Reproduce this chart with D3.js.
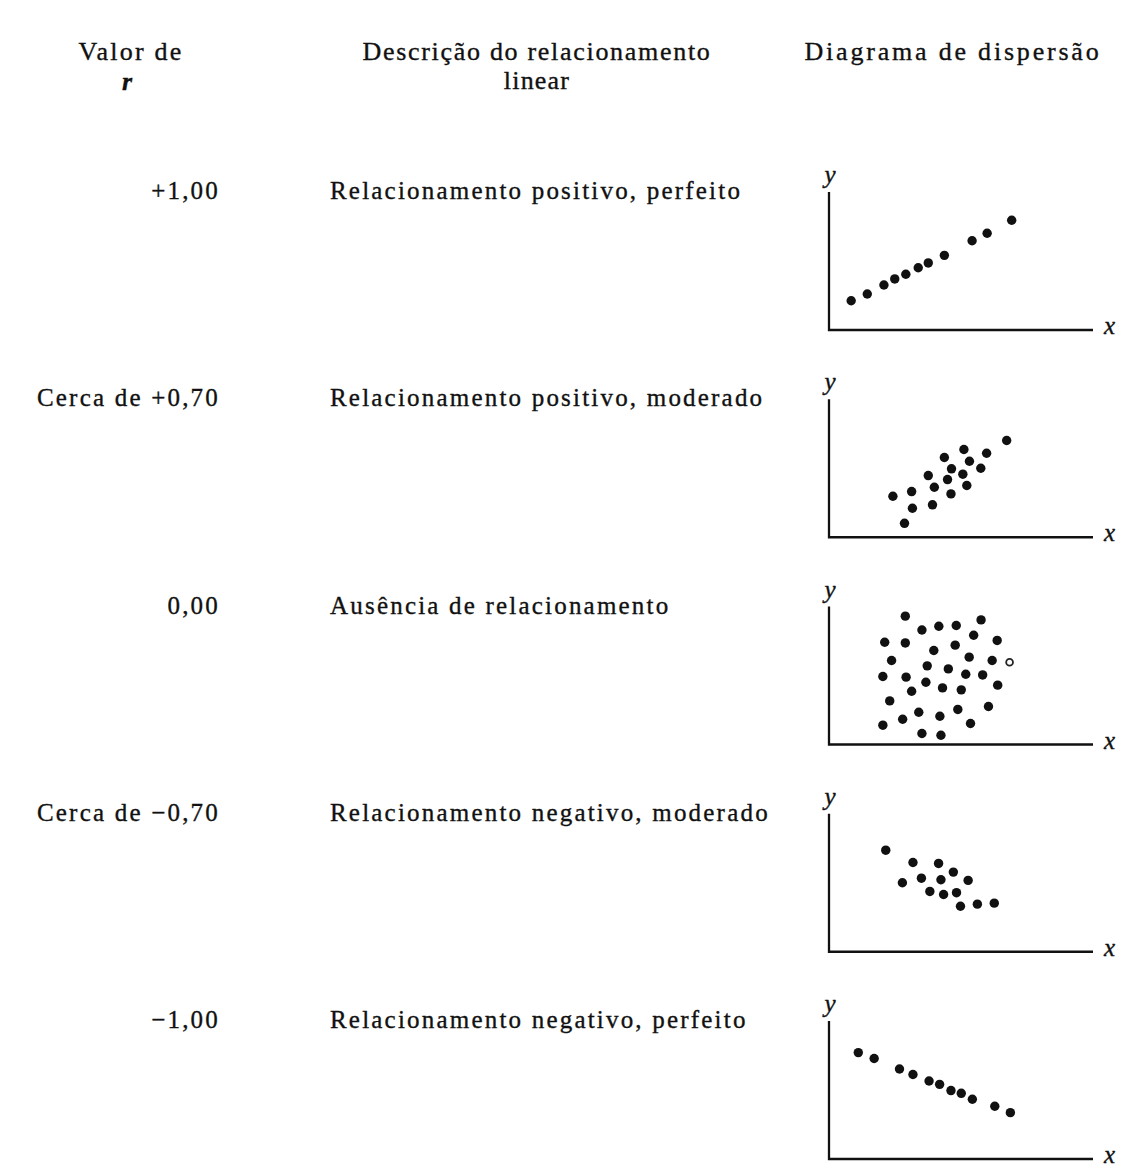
<!DOCTYPE html>
<html>
<head>
<meta charset="utf-8">
<script src="https://cdn.jsdelivr.net/npm/d3@7"></script>
<style>
  html, body { margin: 0; padding: 0; background: #fff; }
  svg { display: block; }
  text { font-family: "Liberation Serif", "Times New Roman", serif; fill: #111; stroke: #111; stroke-width: 0.35px; }
</style>
</head>
<body>
<script>
// ---------- DATA ----------
const headers = ["Valor de", "Descrição do relacionamento", "Diagrama de dispersão"];
const headers2 = ["r", "linear"];
const rValues = ["+1,00", "Cerca de +0,70", "0,00", "Cerca de −0,70", "−1,00"];
const descriptions = [
  "Relacionamento positivo, perfeito",
  "Relacionamento positivo, moderado",
  "Ausência de relacionamento",
  "Relacionamento negativo, moderado",
  "Relacionamento negativo, perfeito"
];
// scatter points [x, y] in 0–100 units for each panel
const pointsPerfectPos = [
  [8.4,21.2],[14.5,26.1],[20.8,32.6],[24.9,37.0],[29.1,40.4],[33.8,45.1],
  [37.6,48.6],[43.7,54.1],[54.2,64.7],[59.9,70.1],[69.2,79.5]
];
const pointsModeratePos = [
  [67.3,70.1],[51.1,63.6],[59.7,60.9],[43.7,57.8],[53.2,55.1],[46.4,49.6],
  [57.5,50.0],[37.6,44.7],[50.7,45.7],[44.9,41.8],[39.9,36.2],[52.2,37.5],
  [31.3,33.1],[24.2,29.7],[46.2,31.4],[31.6,21.0],[39.2,23.5],[28.6,10.1]
];
const pointsNone = [
  [28.9,93.0],[57.6,90.3],[35.2,83.0],[41.6,85.7],[48.2,86.2],[54.8,79.2],
  [21.1,74.1],[28.9,73.6],[47.8,72.0],[63.7,75.4],[39.7,68.1],[23.7,60.9],
  [53.1,63.3],[61.8,60.9],[37.2,57.0],[45.2,54.8],[20.4,49.3],[29.2,48.8],
  [51.8,50.9],[58.2,50.4],[36.7,45.1],[31.3,38.6],[43.0,41.0],[50.1,39.6],
  [63.9,43.0],[23.0,31.6],[34.0,23.4],[48.8,25.4],[60.4,27.5],[27.9,18.3],
  [42.0,20.5],[20.4,14.0],[53.6,15.2],[35.2,8.0],[42.4,6.7]
];
const pointsNoneOpen = [[68.4,59.6]];
const pointsModerateNeg = [
  [21.5,73.6],[31.8,64.7],[41.5,64.0],[47.1,57.7],[27.8,50.0],[35.0,53.3],
  [42.4,52.2],[52.7,51.7],[38.2,43.7],[43.4,41.5],[48.3,42.8],[49.8,33.0],
  [56.2,34.5],[62.6,35.2]
];
const pointsPerfectNeg = [
  [11.1,77.1],[17.1,72.8],[26.7,65.2],[31.8,61.2],[37.9,56.5],[41.9,54.1],
  [46.2,49.6],[50.1,47.6],[54.3,43.3],[62.8,38.2],[68.7,33.6]
];
const panels = [pointsPerfectPos, pointsModeratePos, pointsNone, pointsModerateNeg, pointsPerfectNeg];
const openPoints = [[], [], pointsNoneOpen, [], []];

// ---------- LAYOUT ----------
const W = 1129, H = 1169;
const svg = d3.select("body").append("svg").attr("width", W).attr("height", H);

const row = d3.scalePoint().domain(d3.range(rValues.length)).range([190, 1019]);
const x = d3.scaleLinear().domain([0, 100]).range([829, 1093]);
const panelHeight = 138;

// headers
const hdr = svg.append("g").style("font-size", "26px");
hdr.append("text").attr("x", 131).attr("y", 60).attr("text-anchor", "middle")
  .style("letter-spacing", "2.2px").text(headers[0]);
hdr.append("text").attr("x", 537).attr("y", 60).attr("text-anchor", "middle")
  .style("letter-spacing", "1.7px").text(headers[1]);
hdr.append("text").attr("x", 953).attr("y", 60).attr("text-anchor", "middle")
  .style("letter-spacing", "2.8px").text(headers[2]);
hdr.append("text").attr("x", 127).attr("y", 90).attr("text-anchor", "middle")
  .style("font-style", "italic").style("font-weight", "bold").text(headers2[0]);
hdr.append("text").attr("x", 537).attr("y", 89).attr("text-anchor", "middle")
  .style("letter-spacing", "1.2px").text(headers2[1]);

// left column: r values
svg.append("g").selectAll("text").data(rValues).join("text")
  .attr("x", 220).attr("y", (d, i) => row(i) + 9)
  .attr("text-anchor", "end")
  .style("font-size", "25px").style("letter-spacing", "2.2px")
  .text(d => d);

// middle column: descriptions
svg.append("g").selectAll("text").data(descriptions).join("text")
  .attr("x", 330).attr("y", (d, i) => row(i) + 9)
  .style("font-size", "25px").style("letter-spacing", "2.2px")
  .text(d => d);

// scatter panels
panels.forEach((pts, i) => {
  const bottom = row(i) + 140;
  const y = d3.scaleLinear().domain([0, 100]).range([bottom, bottom - panelHeight]);
  const g = svg.append("g");
  g.append("path")
    .attr("d", d3.line()([[x(0), y(100)], [x(0), y(0)], [x(100), y(0)]]))
    .attr("fill", "none").attr("stroke", "#111").attr("stroke-width", 2.3);
  g.append("text").attr("x", x(0) + 1).attr("y", y(100) - 9)
    .attr("text-anchor", "middle")
    .style("font-size", "25px").style("font-style", "italic").text("y");
  g.append("text").attr("x", x(100) + 11).attr("y", y(0) + 4)
    .style("font-size", "25px").style("font-style", "italic").text("x");
  g.selectAll("circle.dot").data(pts).join("circle").attr("class", "dot")
    .attr("cx", d => x(d[0])).attr("cy", d => y(d[1])).attr("r", 4.7)
    .attr("fill", "#111");
  g.selectAll("circle.open").data(openPoints[i]).join("circle").attr("class", "open")
    .attr("cx", d => x(d[0])).attr("cy", d => y(d[1])).attr("r", 3.4)
    .attr("fill", "#fff").attr("stroke", "#222").attr("stroke-width", 1.8);
});
</script>
</body>
</html>
